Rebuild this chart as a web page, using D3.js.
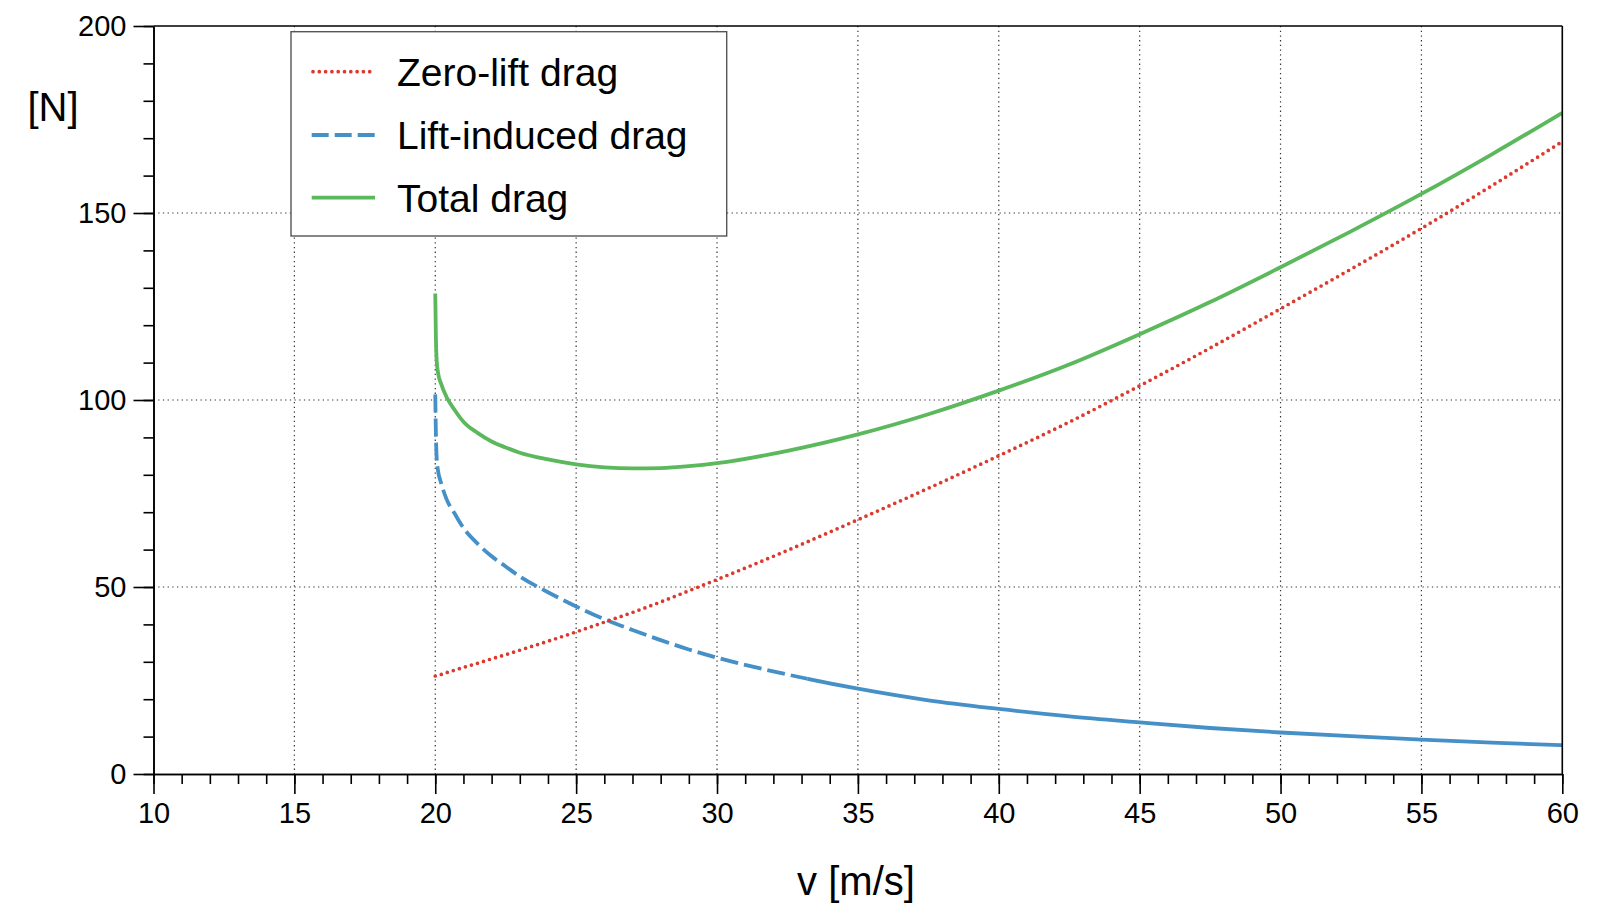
<!DOCTYPE html>
<html>
<head>
<meta charset="utf-8">
<script src="https://cdn.jsdelivr.net/npm/d3@7"></script>
<style>
  html, body { margin: 0; padding: 0; background: #fff; }
  svg { display: block; }
  text { font-family: "Liberation Sans", Arial, sans-serif; fill: #000; }
</style>
</head>
<body>
<svg id="chart" width="1606" height="921"></svg>
<script>
// ---- data ----
const speeds   = [20, 20.02, 20.05, 20.1, 20.2, 20.4, 20.7, 21, 21.5, 22, 22.5, 23, 24, 25, 26, 27, 28, 29, 30, 32.5, 35, 37.5, 40, 42.5, 45, 47.5, 50, 52.5, 55, 57.5, 60];
const zeroLift = [26.2, 26.2, 26.3, 26.4, 26.6, 27.1, 27.8, 28.5, 29.6, 30.8, 31.9, 33.1, 35.5, 38.0, 40.6, 43.2, 46.0, 49.0, 52.0, 59.8, 68.0, 76.4, 85.1, 94.1, 103.8, 113.9, 124.4, 135.0, 145.9, 157.3, 169.1];
const induced  = [101.5, 92.0, 84.5, 81.0, 78.0, 73.5, 69.5, 65.8, 61.6, 58.2, 55.5, 52.8, 48.6, 44.8, 41.4, 38.5, 35.8, 33.3, 31.1, 26.6, 22.8, 19.7, 17.4, 15.4, 13.8, 12.3, 11.1, 10.1, 9.2, 8.4, 7.7];
const total    = [128.5, 118.0, 110.5, 107.2, 104.5, 100.8, 97.2, 94.2, 91.2, 88.9, 87.3, 85.9, 84.1, 82.8, 82.0, 81.7, 81.8, 82.3, 83.1, 86.4, 90.8, 96.2, 102.5, 109.5, 117.6, 126.2, 135.5, 145.1, 155.1, 165.7, 176.8];

const xTicks = [10, 15, 20, 25, 30, 35, 40, 45, 50, 55, 60];
const yTicks = [0, 50, 100, 150, 200];
const xMinor = d3.range(10, 61, 1);
const yMinor = d3.range(0, 201, 10);

const seriesNames = ["Zero-lift drag", "Lift-induced drag", "Total drag"];
const seriesColors = ["#dc3a2e", "#4690c8", "#5cb85c"];
const xLabel = "v [m/s]";
const yLabel = "[N]";
const solidFrom = 33.2; // induced-drag line turns solid from here on

// ---- layout ----
const svg = d3.select("#chart");
const L = 153.5, R = 1562.3, T = 26, B = 774;

const x = d3.scaleLinear().domain([10, 60]).range([L, R]);
const y = d3.scaleLinear().domain([0, 200]).range([B, T]);

// grid
const grid = svg.append("g").attr("stroke", "#333").attr("stroke-width", 1.2).attr("stroke-dasharray", "1.3,3.4");
grid.selectAll("line.gx").data(xTicks.filter(d => d > 10 && d < 60)).join("line")
  .attr("x1", d => x(d)).attr("x2", d => x(d)).attr("y1", T).attr("y2", B);
grid.selectAll("line.gy").data(yTicks.filter(d => d > 0 && d < 200)).join("line")
  .attr("y1", d => y(d)).attr("y2", d => y(d)).attr("x1", L).attr("x2", R);

// lines
const line = vals => d3.line()
  .x((d, i) => x(speeds[i]))
  .y((d, i) => y(vals[i]))
  .curve(d3.curveMonotoneX)(vals);

const defs = svg.append("defs");
defs.append("clipPath").attr("id", "clipLeft").append("rect")
  .attr("x", 0).attr("y", 0).attr("width", x(solidFrom)).attr("height", 921);
defs.append("clipPath").attr("id", "clipRight").append("rect")
  .attr("x", x(solidFrom)).attr("y", 0).attr("width", 1606 - x(solidFrom)).attr("height", 921);

svg.append("path").attr("d", line(total))
  .attr("fill", "none").attr("stroke", seriesColors[2]).attr("stroke-width", 3.8)
  .attr("stroke-linejoin", "round");

svg.append("path").attr("d", line(induced)).attr("clip-path", "url(#clipLeft)")
  .attr("fill", "none").attr("stroke", seriesColors[1]).attr("stroke-width", 3.8)
  .attr("stroke-dasharray", "18,6");
svg.append("path").attr("d", line(induced)).attr("clip-path", "url(#clipRight)")
  .attr("fill", "none").attr("stroke", seriesColors[1]).attr("stroke-width", 3.8);

svg.append("path").attr("d", line(zeroLift))
  .attr("fill", "none").attr("stroke", seriesColors[0]).attr("stroke-width", 3.7)
  .attr("stroke-linecap", "round").attr("stroke-dasharray", "0,6.3");

// axes
function styleAxis(g) {
  g.selectAll("path.domain").attr("stroke", "#000").attr("stroke-width", 1.6);
  g.selectAll(".tick line").attr("stroke", "#000").attr("stroke-width", 1.6);
  g.selectAll("text").attr("font-size", 29).attr("font-family", "Liberation Sans, Arial, sans-serif").attr("fill", "#000");
}

svg.append("g").attr("transform", `translate(0,${B})`)
  .call(d3.axisBottom(x).tickValues(xMinor).tickSize(10).tickSizeOuter(0).tickFormat(""))
  .call(styleAxis);
svg.append("g").attr("transform", `translate(0,${B})`)
  .call(d3.axisBottom(x).tickValues(xTicks).tickSize(20).tickSizeOuter(0).tickPadding(8).tickFormat(d3.format("d")))
  .call(styleAxis);

svg.append("g").attr("transform", `translate(${L},0)`)
  .call(d3.axisLeft(y).tickValues(yMinor).tickSize(10).tickSizeOuter(0).tickFormat(""))
  .call(styleAxis);
svg.append("g").attr("transform", `translate(${L},0)`)
  .call(d3.axisLeft(y).tickValues(yTicks).tickSize(20).tickSizeOuter(0).tickPadding(7).tickFormat(d3.format("d")))
  .call(styleAxis);

// top & right spines
svg.append("line").attr("x1", L).attr("x2", R).attr("y1", T).attr("y2", T).attr("stroke", "#000").attr("stroke-width", 1.6);
svg.append("line").attr("x1", R).attr("x2", R).attr("y1", T).attr("y2", B).attr("stroke", "#000").attr("stroke-width", 1.6);

// axis labels
svg.append("text").attr("x", 856).attr("y", 895).attr("text-anchor", "middle").attr("font-size", 40).text(xLabel);
svg.append("text").attr("x", 53).attr("y", 121).attr("text-anchor", "middle").attr("font-size", 40).text(yLabel);

// legend
const lg = svg.append("g");
lg.append("rect").attr("x", 291).attr("y", 31.7).attr("width", 435.7).attr("height", 204.3)
  .attr("fill", "#fff").attr("stroke", "#555").attr("stroke-width", 1.4);
const rowY = [71.7, 135, 197.7];
const dashes = ["0,6.3", "17,6", null];
const widths = [3.7, 3.8, 3.8];
seriesNames.forEach((name, i) => {
  const ln = lg.append("line").attr("x1", i === 0 ? 313 : 311.7).attr("x2", 375).attr("y1", rowY[i]).attr("y2", rowY[i])
    .attr("stroke", seriesColors[i]).attr("stroke-width", widths[i]);
  if (dashes[i]) ln.attr("stroke-dasharray", dashes[i]);
  if (i === 0) ln.attr("stroke-linecap", "round");
  lg.append("text").attr("x", 397).attr("y", rowY[i]).attr("dy", "0.36em").attr("font-size", 39).text(name);
});
</script>
</body>
</html>
